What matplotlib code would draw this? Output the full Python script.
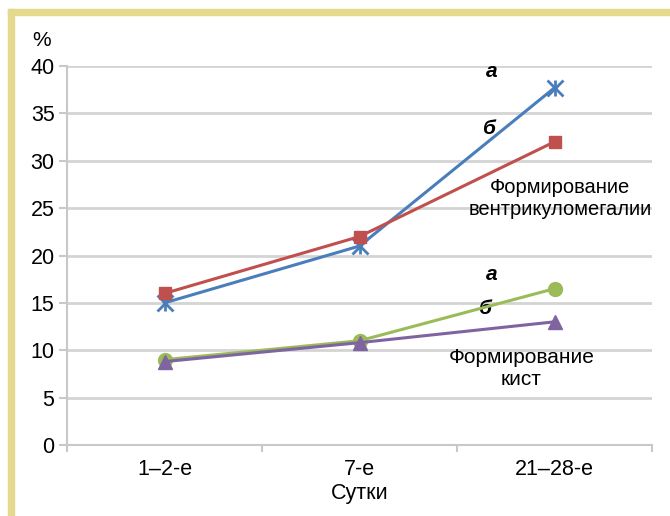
import numpy as np
import matplotlib
matplotlib.use('Agg')
from matplotlib import pyplot as plt
from matplotlib.patches import Rectangle

plt.rcParams['font.family'] = ['Liberation Sans Narrow', 'Liberation Sans', 'DejaVu Sans']

categories = ['1–2-е', '7-е', '21–28-е']
vent_a = [15, 21, 37.7]
vent_b = [16, 22, 32]
kist_a = [9, 11, 16.5]
kist_b = [8.8, 10.8, 13]
yticks = [0, 5, 10, 15, 20, 25, 30, 35, 40]

W, H = 670, 516
fig = plt.figure(figsize=(W / 100, H / 100), dpi=100)
ax = fig.add_axes([67 / W, 1 - 445 / H, (652 - 67) / W, (445 - 66) / H])

# yellow frame (top and left)
fig.patches.append(Rectangle((8 / W, 0), 6 / W, 1 - 9 / H, transform=fig.transFigure,
                             color='#e4d98c', zorder=0))
fig.patches.append(Rectangle((8 / W, 1 - 15 / H), 1, 6 / H, transform=fig.transFigure,
                             color='#e4d98c', zorder=0))

x = np.arange(len(categories))

ax.plot(x, vent_a, color='#4a7ebb', lw=2.2, marker='x', ms=11, mew=2, zorder=4)
ax.plot(x, vent_a, ls='none', color='#4a7ebb', marker='|', ms=12, mew=2, zorder=4)
ax.plot(x, vent_b, color='#c0504d', lw=2.2, marker='s', ms=9, zorder=4)
ax.plot(x, kist_a, color='#9bbb59', lw=2.2, marker='o', ms=10, zorder=4)
ax.plot(x, kist_b, color='#8064a2', lw=2.2, marker='^', ms=10, zorder=5)

ax.set_xlim(-0.5, 2.5)
ax.set_ylim(0, 40)
ax.set_yticks(yticks)
ax.set_xticks(x)
ax.set_xticklabels(categories)
ax.set_xticks([-0.5, 0.5, 1.5, 2.5], minor=True)
ax.tick_params(axis='x', which='major', length=0, labelsize=15.5, pad=10)
ax.tick_params(axis='x', which='minor', length=5, color='#c8c8c8', width=1.5)
ax.tick_params(axis='y', length=6, color='#c8c8c8', width=1.5, labelsize=15.5, pad=3)

ax.grid(axis='y', color='#d4d4d4', lw=2)
ax.set_axisbelow(True)
for s in ['top', 'right']:
    ax.spines[s].set_visible(False)
for s in ['left', 'bottom']:
    ax.spines[s].set_color('#c8c8c8')
    ax.spines[s].set_linewidth(1.5)

ax.set_xlabel('Сутки', fontsize=15.5, labelpad=2)
fig.text(42 / W, 1 - 40 / H, '%', fontsize=15, ha='center', va='center')

# annotations
ax.text(1.68, 38.8, 'а', fontsize=15, fontweight='bold', style='italic', ha='center')
ax.text(1.66, 32.8, 'б', fontsize=15, fontweight='bold', style='italic', ha='center')
ax.text(2.03, 26.0, 'Формирование\nвентрикуломегалии', fontsize=14.5, ha='center',
        va='center', linespacing=1.2)
ax.text(1.68, 17.4, 'а', fontsize=15, fontweight='bold', style='italic', ha='center')
ax.text(1.64, 13.8, 'б', fontsize=15, fontweight='bold', style='italic', ha='center')
ax.text(1.83, 8.1, 'Формирование\nкист', fontsize=15, ha='center', va='center',
        linespacing=1.2)

fig.savefig('out.png', dpi=100)
